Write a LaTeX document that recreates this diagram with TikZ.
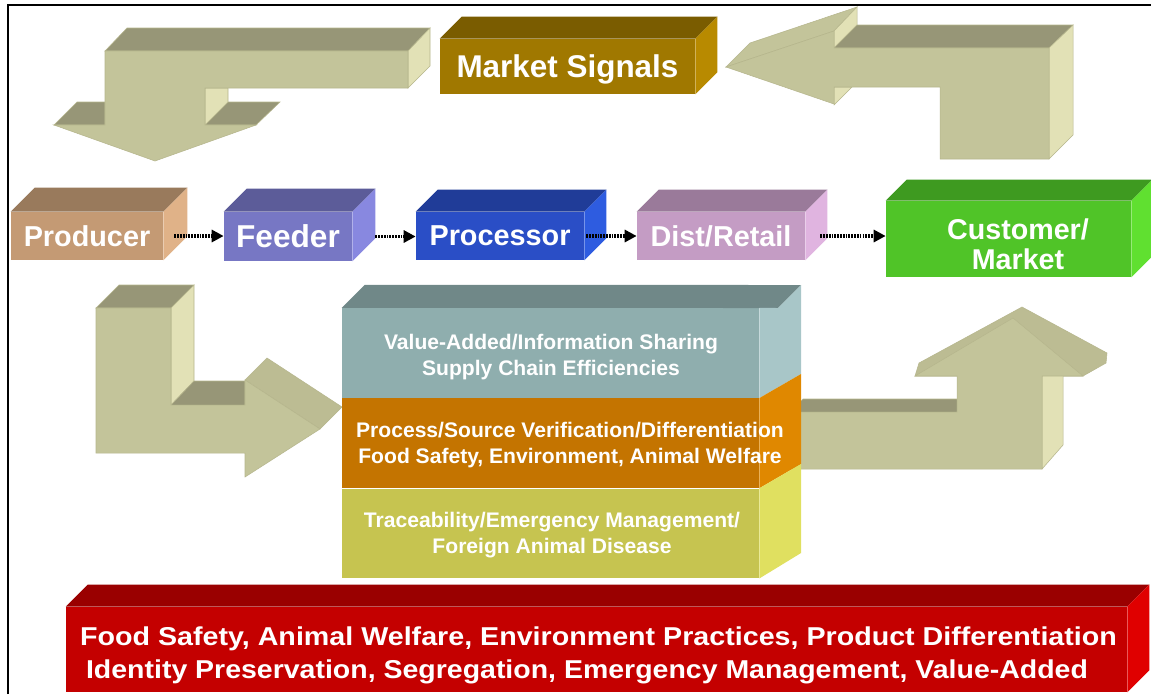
\documentclass[tikz,border=0pt]{standalone}
\usepackage{fontspec}
\setmainfont{Liberation Sans}
\usepackage{xcolor}
\usepackage{graphicx}
\usetikzlibrary{positioning, arrows.meta}
\definecolor{khaki}{HTML}{C3C49A}
\definecolor{khakitop}{HTML}{979677}
\definecolor{khakiside}{HTML}{E2E1B6}
\definecolor{khakiedge}{HTML}{B6B68D}
\definecolor{khakihead}{HTML}{BCBC93}
\definecolor{signals}{HTML}{A07800}
\definecolor{topsignals}{HTML}{7A5C00}
\definecolor{sidesignals}{HTML}{B88A00}
\definecolor{producer}{HTML}{C49A74}
\definecolor{topproducer}{HTML}{997A5C}
\definecolor{sideproducer}{HTML}{E0B288}
\definecolor{feeder}{HTML}{7777C4}
\definecolor{topfeeder}{HTML}{5C5C99}
\definecolor{sidefeeder}{HTML}{8888E0}
\definecolor{processor}{HTML}{2A4EC6}
\definecolor{topprocessor}{HTML}{203C98}
\definecolor{sideprocessor}{HTML}{2E5CE0}
\definecolor{dist}{HTML}{C49CC4}
\definecolor{topdist}{HTML}{9A7A9A}
\definecolor{sidedist}{HTML}{E0B4E0}
\definecolor{customer}{HTML}{50C428}
\definecolor{topcustomer}{HTML}{3E9A20}
\definecolor{sidecustomer}{HTML}{60E030}
\definecolor{bar}{HTML}{C40000}
\definecolor{topbar}{HTML}{9A0000}
\definecolor{sidebar}{HTML}{E00000}
\definecolor{value}{HTML}{8FAEAE}
\definecolor{topvalue}{HTML}{708888}
\definecolor{sidevalue}{HTML}{A8C6C8}
\definecolor{process}{HTML}{C47400}
\definecolor{sideprocess}{HTML}{E08800}
\definecolor{trace}{HTML}{C6C450}
\definecolor{sidetrace}{HTML}{E0E060}

\begin{document}
\begin{tikzpicture}[x=0.02cm, y=-0.02cm]
	\tikzstyle{facebox}=[rectangle, inner sep=0, text=white, align=center, text depth=0pt, font=\fontsize{16.4}{19}\selectfont\bfseries]
	\tikzstyle{layerbox}=[rectangle, inner sep=0, minimum width=8.34cm, minimum height=1.79cm]
	\tikzstyle{layertext}=[text=white, align=center, inner sep=0, font=\fontsize{12}{14.8}\selectfont\bfseries]
	\tikzstyle{bartext}=[text=white, inner sep=0, font=\fontsize{14.7}{17}\selectfont\bfseries]
	\tikzstyle{flow}=[line width=2pt, dash pattern=on 1pt off 0.6pt, -{Triangle[length=0.24cm, width=0.24cm]}]
	\tikzstyle{khakiface}=[fill=khaki, draw=khakiedge, line width=0.3pt]
	\tikzstyle{khakitopface}=[fill=khakitop, draw=khakiedge, line width=0.3pt]
	\tikzstyle{khakisideface}=[fill=khakiside, draw=khakiedge, line width=0.3pt]

	\useasboundingbox (0,0) rectangle (1151,694);
	\fill[white] (0,0) rectangle (1151,694);
	\draw[line width=0.05cm] (8,694) -- (8,5) -- (1151,5);

	% top left arrow
	\fill[khakitopface] (105,51) -- (127,28) -- (430,28) -- (408,51) -- cycle;
	\fill[khakisideface] (408,51) -- (430,28) -- (430,66) -- (408,88) -- cycle;
	\fill[khakitopface] (54,125) -- (77,102) -- (105,102) -- (105,125) -- cycle;
	\fill[khakitopface] (205,125) -- (228,102) -- (280,102) -- (256,125) -- cycle;
	\fill[khakisideface] (205,88) -- (228,88) -- (228,102) -- (205,125) -- cycle;
	\fill[khakiface] (105,51) -- (408,51) -- (408,88) -- (205,88) -- (205,125) -- (256,125) -- (155,161) -- (54,125) -- (105,125) -- cycle;

	% top right arrow
	\fill[khakiface] (726,67) -- (750,43) -- (857,7) -- (834,31) -- cycle;
	\fill[khakisideface] (834,31) -- (857,7) -- (857,25) -- (834,48) -- cycle;
	\fill[khakitopface] (834,48) -- (857,25) -- (1073,25) -- (1049,48) -- cycle;
	\fill[khakisideface] (1049,48) -- (1073,25) -- (1073,135) -- (1049,159) -- cycle;
	\fill[khakisideface] (834,87) -- (852,87) -- (834,105) -- cycle;
	\fill[khakiface] (726,67) -- (834,31) -- (834,48) -- (1049,48) -- (1049,159) -- (940,159) -- (940,87) -- (834,87) -- (834,104) -- cycle;

	% bottom left arrow
	\fill[khakitopface] (96,308) -- (119,285) -- (194,285) -- (171,308) -- cycle;
	\fill[khakisideface] (171,308) -- (194,285) -- (194,381) -- (171,405) -- cycle;
	\fill[khakitopface] (171,405) -- (194,381) -- (245,381) -- (245,405) -- cycle;
	\fill[khakiface, fill=khakihead] (245,380) -- (267,358) -- (342,407) -- (320,429) -- cycle;
	\fill[khakiface] (96,308) -- (171,308) -- (171,405) -- (245,405) -- (245,380) -- (320,429) -- (245,477) -- (245,453) -- (96,453) -- cycle;

	% bottom right arrow
	\fill[khakiface, fill=khakihead] (915,376) -- (919,363) -- (1022,307) -- (1107,353) -- (1106,363) -- (1083,376) -- cycle;
	\fill[khakisideface] (1042,376) -- (1063,363) -- (1063,445) -- (1042,469) -- cycle;
	\fill[khakitopface] (790,412) -- (803,399) -- (957,399) -- (957,412) -- cycle;
	\fill[khakiface] (790,412) -- (957,412) -- (957,376) -- (915,376) -- (1013,318) -- (1083,376) -- (1042,376) -- (1042,469) -- (790,469) -- cycle;

	\node[facebox, fill=signals, minimum width=5.1cm, minimum height=1.1cm, font=\fontsize{17.9}{21}\selectfont\bfseries] (signals) at (567.5,66.5) {Market Signals};
	\node[facebox, fill=producer, minimum width=3.04cm, minimum height=0.96cm] (producer) at (87,236) {Producer};
	\node[facebox, fill=feeder, minimum width=2.56cm, minimum height=0.98cm, font=\fontsize{18}{21}\selectfont\bfseries] (feeder) at (288,236.5) {Feeder};
	\node[facebox, fill=processor, minimum width=3.36cm, minimum height=0.96cm] (processor) at (500,236) {Processor};
	\node[facebox, fill=dist, minimum width=3.36cm, minimum height=0.96cm] (dist) at (721,236) {Dist/Retail};
	\node[facebox, fill=customer, minimum width=4.9cm, minimum height=1.52cm] (customer) at (1008.5,239) {};
	\node[facebox, fill=bar, minimum width=21.22cm, minimum height=1.7cm] (bar) at (596.5,649.5) {};

	\foreach \n/\d in {signals/22, producer/24, feeder/23, processor/22, dist/22, customer/21, bar/22}{
		\fill[top\n] (\n.north west) -- ++(\d,-\d) -- ([shift={(\d,-\d)}]\n.north east) -- (\n.north east) -- cycle;
		\fill[side\n] (\n.north east) -- ++(\d,-\d) -- ([shift={(\d,-\d)}]\n.south east) -- (\n.south east) -- cycle;
	}
	\node[text=white, align=center, font=\fontsize{16.3}{17}\selectfont\bfseries] (customertext) at (1018,244) {Customer/\\Market};

	\draw[flow, shorten <=0.22cm] (producer.east) -- (feeder.west |- producer.east);
	\draw[flow, shorten <=0.46cm] (feeder.east) -- (processor.west |- feeder.east);
	\draw[flow, shorten <=0.04cm] (processor.east) -- (dist.west |- processor.east);
	\draw[flow, shorten <=0.3cm] (dist.east) -- (customer.west |- dist.east);

	% value stack
	\node[layerbox, fill=value] (value) at (550.5,353) {};
	\node[layerbox, fill=process, below=0cm of value] (process) {};
	\node[layerbox, fill=trace, below=0cm of process] (trace) {};
	\fill[topvalue] (value.north west) -- ++(23,-23) -- (801,285) -- (778,308) -- cycle;
	\fill[sidevalue] (value.north east) -- (778,308) -- (801,285) -- (801,374) -- (value.south east) -- cycle;
	\fill[sideprocess] (process.north east) -- (801,374) -- (801,464) -- (process.south east) -- cycle;
	\fill[sidetrace] (trace.north east) -- (801,464) -- (801,553) -- (trace.south east) -- cycle;

	\node[layertext] (valuetext) at (551,357) {Value-Added/Information Sharing\\Supply Chain Efficiencies};
	\node[layertext] (processtext) at (570,445.5) {Process/Source Verification/Differentiation\\Food Safety, Environment, Animal Welfare};
	\node[layertext] (tracetext) at (552,535.5) {Traceability/Emergency Management/\\Foreign Animal Disease};

	\node[bartext] (barfirst) at (598.5,639) {\resizebox{20.74cm}{\height}{Food Safety, Animal Welfare, Environment Practices, Product Differentiation}};
	\node[bartext] (barsecond) at (587,671.5) {\resizebox{20.04cm}{\height}{Identity Preservation, Segregation, Emergency Management, Value-Added}};
\end{tikzpicture}
\end{document}
